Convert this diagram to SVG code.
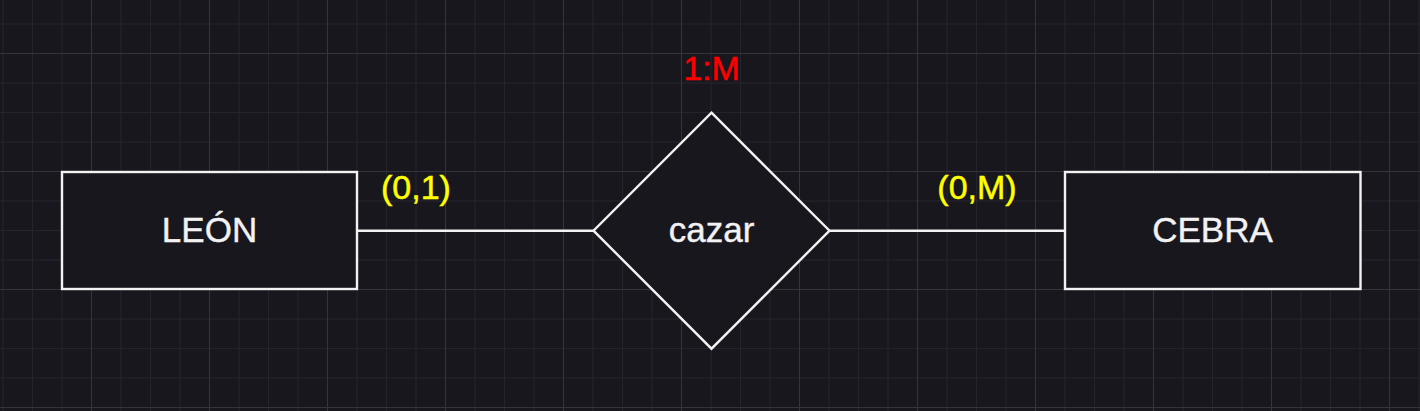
<svg xmlns="http://www.w3.org/2000/svg" width="1420" height="411" viewBox="0 0 1420 411">
  <style>
    .shape { fill: #19171e; stroke: #f2f2f2; stroke-width: 2.4; }
    .conn { stroke: #f2f2f2; stroke-width: 2.4; fill: none; }
    .label { font-family: "Liberation Sans", Arial, Helvetica, sans-serif; font-size: 35px; text-anchor: middle; fill: #f2f2f2; stroke: #f2f2f2; stroke-width: 0.4; }
    .card { font-family: "Liberation Sans", Arial, Helvetica, sans-serif; font-size: 34px; text-anchor: middle; fill: #ffff00; stroke: #ffff00; stroke-width: 0.5; }
    .ratio { font-family: "Liberation Sans", Arial, Helvetica, sans-serif; font-size: 34px; text-anchor: middle; fill: #ff0000; stroke: #ff0000; stroke-width: 0.4; }
  </style>
  <defs>
    <pattern id="grid" patternUnits="userSpaceOnUse" x="91" y="53" width="118" height="118">
      <rect x="0" y="0" width="118" height="118" fill="#19171e"/>
      <g fill="#25232b">
        <rect x="29.5" y="0" width="1" height="118"/>
        <rect x="59" y="0" width="1" height="118"/>
        <rect x="88.5" y="0" width="1" height="118"/>
        <rect x="0" y="29.5" width="118" height="1"/>
        <rect x="0" y="59" width="118" height="1"/>
        <rect x="0" y="88.5" width="118" height="1"/>
      </g>
      <g fill="#35333b">
        <rect x="0" y="0" width="1" height="118"/>
        <rect x="0" y="0" width="118" height="1"/>
      </g>
    </pattern>
  </defs>
  <rect x="0" y="0" width="1420" height="411" fill="url(#grid)"/>

  <g id="connectors">
    <line class="conn" x1="357" y1="230.7" x2="593.5" y2="230.7"/>
    <line class="conn" x1="829.5" y1="230.7" x2="1065" y2="230.7"/>
  </g>

  <g id="leon">
    <rect class="shape" x="62" y="172" width="295" height="117"/>
    <text class="label" x="209.5" y="242">LEÓN</text>
  </g>

  <g id="cazar">
    <polygon class="shape" points="711.5,112.7 829.5,230.7 711.5,348.7 593.5,230.7"/>
    <text class="label" x="711.5" y="242">cazar</text>
  </g>

  <g id="cebra">
    <rect class="shape" x="1065" y="172" width="295.5" height="117"/>
    <text class="label" x="1212.5" y="242">CEBRA</text>
  </g>

  <g id="card-leon">
    <text class="card" x="416" y="199">(0,1)</text>
  </g>
  <g id="card-cebra">
    <text class="card" x="977" y="199">(0,M)</text>
  </g>
  <g id="ratio">
    <text class="ratio" x="711.5" y="80">1:M</text>
  </g>
</svg>
